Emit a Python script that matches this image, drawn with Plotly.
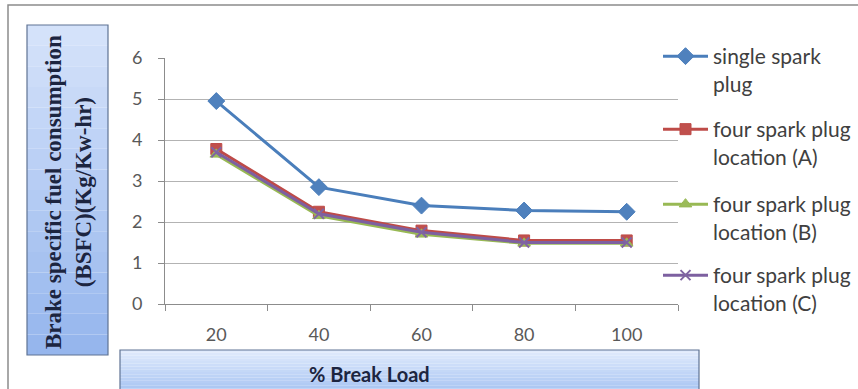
import plotly.graph_objects as go

# Brake specific fuel consumption vs. % brake load
loads = [20, 40, 60, 80, 100]
single_spark = [4.95, 2.85, 2.40, 2.28, 2.25]
four_spark_a = [3.78, 2.25, 1.79, 1.55, 1.55]
four_spark_b = [3.65, 2.15, 1.70, 1.48, 1.48]
four_spark_c = [3.70, 2.20, 1.75, 1.50, 1.50]

series = [
    ("single spark<br>plug", single_spark, "#4a7ebb", "#4f81bd", "diamond", 13),
    ("four spark plug<br>location (A)", four_spark_a, "#be4b48", "#c0504d", "square", 11),
    ("four spark plug<br>location (B)", four_spark_b, "#98b954", "#9bbb59", "triangle-up", 11),
    ("four spark plug<br>location (C)", four_spark_c, "#7d60a0", "#8064a2", "x-thin-open", 10),
]
legend_ids = ["legend", "legend2", "legend3", "legend4"]
legend_mids = [70, 143, 218, 289]   # pixel middle of each legend entry

fig = go.Figure()
for i, (name, vals, lc, mc, sym, sz) in enumerate(series):
    fig.add_trace(go.Scatter(
        x=loads, y=vals, name=name, mode="lines+markers",
        legend=legend_ids[i], showlegend=True,
        line=dict(color=lc, width=3),
        marker=dict(symbol=sym, size=sz, color=mc,
                    line=dict(color=lc, width=2 if "x" in sym else 1)),
    ))

# plot-area pixel geometry helpers (plot spans x 165..678, y 58..304)
L, R, T, B = 165, 678, 58, 304
def px(x):
    return (x - L) / (R - L)
def py(y):
    return (B - y) / (B - T)

shapes = []
# outer chart frame
shapes.append(dict(type="rect", xref="paper", yref="paper",
                   x0=px(8), x1=px(880), y0=py(400), y1=py(5),
                   line=dict(color="#8c8c8c", width=1.5), fillcolor="rgba(0,0,0,0)", layer="below"))

def gradient_box(x0, x1, y0, y1, top, bottom, n=16):
    out = []
    for k in range(n):
        f = k / (n - 1)
        c = tuple(round(top[j] + (bottom[j] - top[j]) * f) for j in range(3))
        ya = y0 + (y1 - y0) * k / n
        yb = y0 + (y1 - y0) * (k + 1) / n
        out.append(dict(type="rect", xref="paper", yref="paper",
                        x0=px(x0), x1=px(x1), y0=py(ya), y1=py(yb),
                        line=dict(width=0), fillcolor="rgb(%d,%d,%d)" % c, layer="below"))
    out.append(dict(type="rect", xref="paper", yref="paper",
                    x0=px(x0), x1=px(x1), y0=py(y0), y1=py(y1),
                    line=dict(color="#5f7393", width=1.2), fillcolor="rgba(0,0,0,0)", layer="below"))
    return out

shapes += gradient_box(27, 108, 25, 355, (212, 226, 250), (150, 182, 237))
shapes += gradient_box(120, 699, 350, 394, (224, 234, 252), (165, 195, 242))

annotations = [
    dict(text="<b>Brake specific fuel consumption<br>(BSFC)(Kg/Kw-hr)</b>",
         xref="paper", yref="paper", x=px(68), y=py(192), textangle=-90,
         xanchor="center", yanchor="middle",
         showarrow=False, font=dict(family="Liberation Serif", size=23, color="#1c2540")),
    dict(text="<b>% Break Load</b>", xref="paper", yref="paper",
         x=px(369), y=py(374), xanchor="center", yanchor="middle", showarrow=False,
         font=dict(family="Lato", size=20, color="#1c2540")),
]

legend_style = dict(xanchor="left", yanchor="middle", valign="top", itemwidth=45,
                    font=dict(family="Lato", size=21, color="#404040"),
                    bgcolor="rgba(0,0,0,0)")

fig.update_layout(
    width=858, height=389, showlegend=True,
    margin=dict(l=L, r=858 - R, t=T, b=389 - B, autoexpand=False),
    paper_bgcolor="white", plot_bgcolor="white",
    font=dict(family="Lato", size=18, color="#595959"),
    xaxis=dict(range=[10, 110], tickvals=loads, ticks="", showgrid=False,
               showline=True, linecolor="#8c8c8c", linewidth=1, zeroline=False,
               ticklabelstandoff=14,
               minor=dict(tickvals=[10, 30, 50, 70, 90, 110], ticks="outside",
                          ticklen=6, tickcolor="#8c8c8c", showgrid=False),
               tickfont=dict(size=18, color="#595959")),
    yaxis=dict(range=[0, 6], dtick=1, showgrid=True, gridcolor="#b3b3b3", gridwidth=1,
               showline=True, linecolor="#8c8c8c", linewidth=1, zeroline=False,
               ticks="outside", ticklen=6, tickcolor="#8c8c8c", ticklabelstandoff=12,
               tickfont=dict(size=18, color="#595959")),
    shapes=shapes, annotations=annotations,
)
for lid, mid in zip(legend_ids, legend_mids):
    fig.update_layout({lid: dict(x=px(658), y=py(mid), **legend_style)})

fig.write_html("out.html")
